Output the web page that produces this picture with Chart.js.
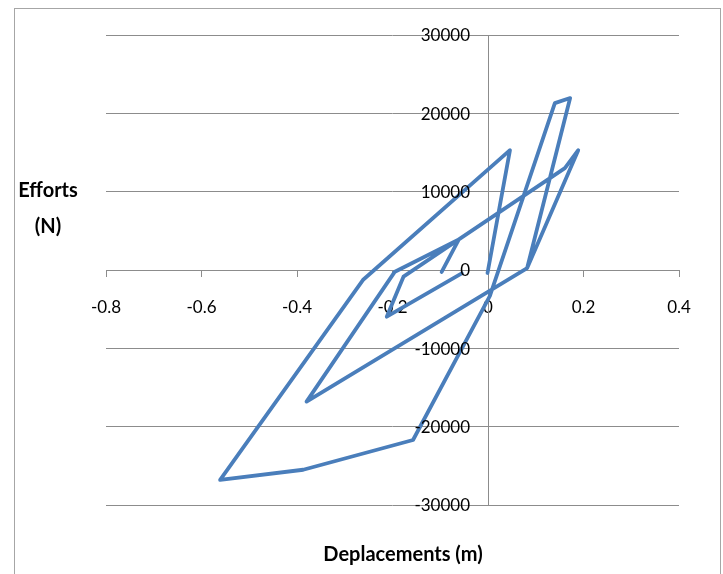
<!DOCTYPE html>
<html>
<head>
<meta charset="utf-8">
<script src="https://cdn.jsdelivr.net/npm/chart.js@4.4.1/dist/chart.umd.min.js"></script>
<style>
html, body { margin: 0; padding: 0; background: #fff; overflow: hidden; }
#wrap { position: relative; width: 723px; height: 574px; }
#frame { position: absolute; left: 14px; top: 8px; width: 707px; height: 620px; border: 1px solid #a6a6a6; box-sizing: border-box; }
#chart { position: absolute; left: 0; top: 0; }
</style>
</head>
<body>
<div id="wrap">
	<div id="frame"></div>
	<canvas id="chart" width="723" height="574"></canvas>
</div>
<script>
// hysteresis path (m, N); null = pen lifted
var deplacements = [-0.055, -0.212, -0.177, -0.061, -0.195, -0.38, 0.082, 0.189, 0.161, -0.061, -0.097, null,
	0.082, 0.172, 0.140, 0.004, -0.157, -0.387, -0.561, -0.262, 0.046, -0.001];
var efforts = [-420, -5960, -850, 3900, -215, -16800, 250, 15300, 13000, 3900, -250, null,
	250, 21950, 21300, -3300, -21700, -25500, -26800, -1280, 15300, -380];

var xTicks = [-0.8, -0.6, -0.4, -0.2, 0, 0.2, 0.4];
var yTicks = [-30000, -20000, -10000, 0, 10000, 20000, 30000];

var xTitle = "Deplacements (m)";
var yTitle = ["Efforts", "(N)"];

var textFont = 'Lato, "Liberation Sans", sans-serif';
var gridColor = '#8c8c8c';

var points = [];
for (var i = 0; i < deplacements.length; ++i) {
	points.push({x: deplacements[i], y: efforts[i]});
}

// y labels sit just left of the x = 0 axis
var yLabels = {
	id: 'yLabels',
	afterDraw: function(chart) {
		var ctx = chart.ctx;
		var x0 = chart.scales.x.getPixelForValue(0);
		ctx.save();
		ctx.font = '17px ' + textFont;
		ctx.fillStyle = '#000';
		ctx.textAlign = 'right';
		ctx.textBaseline = 'middle';
		for (var i = 0; i < yTicks.length; ++i) {
			ctx.fillText(String(yTicks[i]), x0 - 18, chart.scales.y.getPixelForValue(yTicks[i]) + 1);
		}
		ctx.font = 'bold 20px ' + textFont;
		ctx.textAlign = 'center';
		ctx.fillText(yTitle[0], 48, 191);
		ctx.fillText(yTitle[1], 48, 227);
		ctx.fillText(xTitle, 403, 555);
		ctx.restore();
	}
};

var config = {
	type: 'scatter',
	data: {
		datasets: [{
			label: 'Efforts',
			data: points,
			showLine: true,
			spanGaps: false,
			borderColor: 'rgb(74, 126, 187)',
			backgroundColor: 'rgb(74, 126, 187)',
			borderWidth: 3.8,
			borderJoinStyle: 'round',
			borderCapStyle: 'round',
			pointRadius: 0,
			pointHoverRadius: 0,
			tension: 0,
			fill: false
		}]
	},
	options: {
		responsive: false,
		animation: false,
		devicePixelRatio: 1,
		layout: {padding: {left: 106, right: 44, top: 35, bottom: 69}},
		plugins: {
			legend: {display: false},
			tooltip: {enabled: false}
		},
		scales: {
			x: {
				type: 'linear',
				position: {y: 0},
				min: -0.8,
				max: 0.4,
				afterBuildTicks: function(axis) {
					axis.ticks = xTicks.map(function(v) { return {value: v}; });
				},
				ticks: {
					color: '#000',
					font: {family: textFont, size: 17},
					padding: 21,
					maxRotation: 0,
					callback: function(v) { return String(Math.round(v * 10) / 10); }
				},
				grid: {drawOnChartArea: false, drawTicks: true, tickLength: 6, color: gridColor},
				border: {display: true, color: gridColor, width: 1}
			},
			y: {
				type: 'linear',
				position: {x: 0},
				min: -30000,
				max: 30000,
				afterBuildTicks: function(axis) {
					axis.ticks = yTicks.map(function(v) { return {value: v}; });
				},
				ticks: {display: false},
				grid: {drawOnChartArea: true, drawTicks: false, color: gridColor},
				border: {display: true, color: gridColor, width: 1}
			}
		}
	},
	plugins: [yLabels]
};

const effortsChart = new Chart(document.getElementById('chart'), config);
</script>
</body>
</html>
